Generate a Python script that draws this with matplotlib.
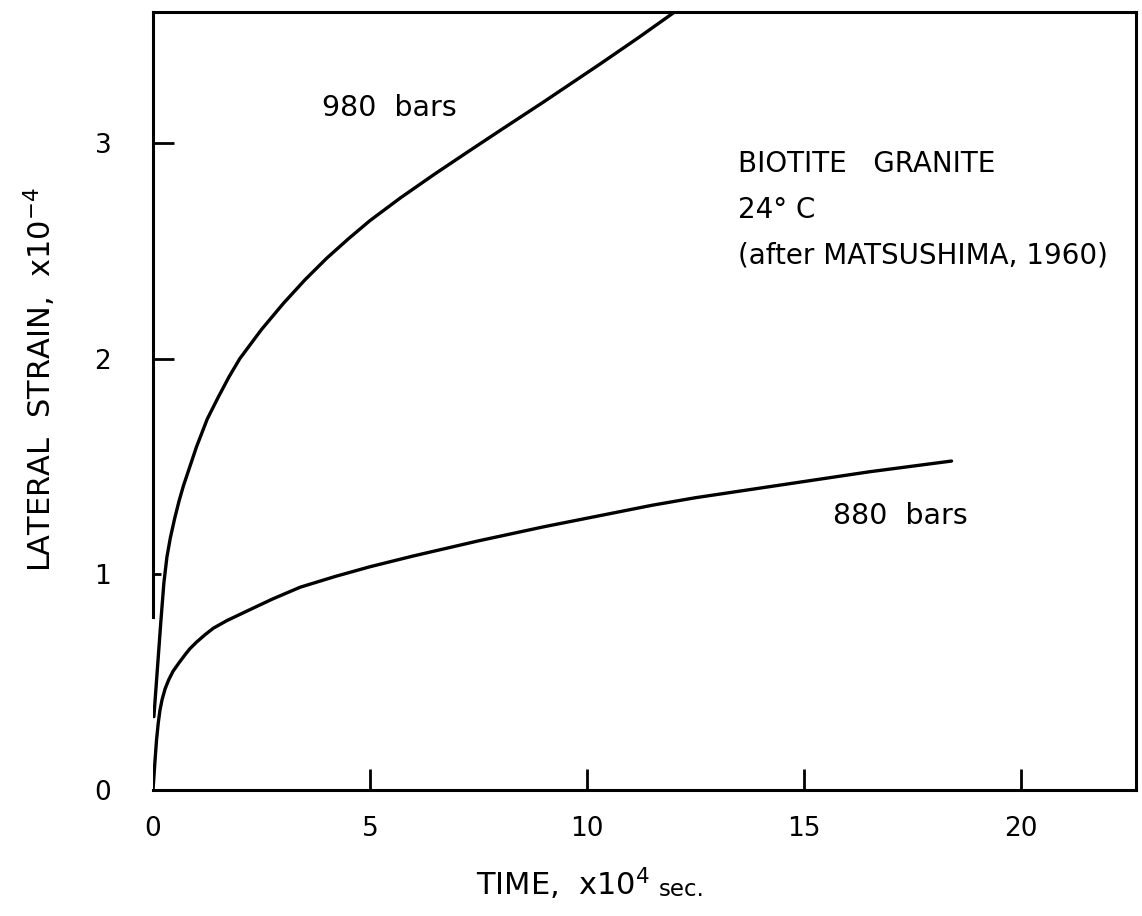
import matplotlib
matplotlib.use("Agg")
import matplotlib.pyplot as plt

# creep curves of biotite granite, time in 1e4 s, lateral strain in 1e-4
TIME_980 = [0.02, 0.10, 0.18, 0.25, 0.32, 0.40, 0.50, 0.60, 0.70, 0.85, 1.00, 1.25, 1.50, 1.75,
            2.00, 2.50, 3.00, 3.50, 4.00, 4.50, 5.00, 5.70, 6.50, 7.25, 8.00, 9.00, 10.31, 11.20, 12.04]
STRAIN_980 = [0.34, 0.56, 0.78, 0.96, 1.08, 1.17, 1.26, 1.34, 1.41, 1.50, 1.59, 1.72, 1.82, 1.915,
              2.00, 2.135, 2.255, 2.365, 2.465, 2.555, 2.64, 2.745, 2.857, 2.958, 3.058, 3.19, 3.367, 3.49, 3.61]

TIME_880 = [0.0, 0.04, 0.08, 0.12, 0.16, 0.21, 0.28, 0.36, 0.46, 0.60, 0.75, 0.85, 1.00, 1.20, 1.39,
            1.70, 2.17, 2.75, 3.39, 4.20, 5.0, 6.0, 7.5, 9.0, 10.0, 11.5, 12.5, 14.0, 15.0, 16.5, 18.4]
STRAIN_880 = [0.0, 0.12, 0.23, 0.31, 0.37, 0.42, 0.47, 0.51, 0.55, 0.59, 0.63, 0.655, 0.685, 0.72, 0.75,
              0.785, 0.83, 0.885, 0.94, 0.99, 1.035, 1.085, 1.155, 1.22, 1.26, 1.32, 1.355, 1.40, 1.43, 1.475, 1.525]

X_TICKS = [0, 5, 10, 15, 20]
Y_TICKS = [0, 1, 2, 3]
X_MAX = 22.65
Y_MAX = 3.607

FONT = "DejaVu Sans"
INK = "black"


def main() -> int:
    plt.rcParams["font.family"] = [FONT]
    plt.rcParams["mathtext.fontset"] = "dejavusans"

    fig = plt.figure(figsize=(11.42, 9.16), dpi=100)
    ax = fig.add_axes([0.134, 0.1376, 0.8607, 0.8493])

    ax.plot(TIME_980, STRAIN_980, color=INK, lw=2.4, solid_capstyle="round", solid_joinstyle="round")
    ax.plot(TIME_880, STRAIN_880, color=INK, lw=2.4, solid_capstyle="round", solid_joinstyle="round")

    ax.set_xlim(0, X_MAX)
    ax.set_ylim(0, Y_MAX)

    for side in ["left", "right", "top", "bottom"]:
        ax.spines[side].set_linewidth(2.2)
        ax.spines[side].set_color(INK)
    # the left border stops short of the origin
    ax.spines["left"].set_bounds(0.8, Y_MAX)

    ax.set_xticks(X_TICKS)
    ax.set_yticks(Y_TICKS)
    ax.set_xticklabels([str(v) for v in X_TICKS])
    ax.set_yticklabels([str(v) for v in Y_TICKS])
    ax.tick_params(axis="x", direction="in", length=15, width=2.0, pad=19, labelsize=19)
    ax.tick_params(axis="y", direction="in", length=15, width=2.0, pad=30, labelsize=19)

    xticks = ax.xaxis.get_major_ticks()
    yticks = ax.yaxis.get_major_ticks()
    xticks[0].tick1line.set_visible(False)
    yticks[0].tick1line.set_visible(False)
    yticks[1].tick1line.set_markersize(6)

    # axis titles
    ax.text(-0.115, 0.527, r"LATERAL  STRAIN,  x10$^{-4}$", transform=ax.transAxes,
            rotation=90, ha="center", va="center", fontsize=22)
    ax.text(0.5056, -0.136, r"TIME,  x10$^{4}$", transform=ax.transAxes,
            ha="right", va="baseline", fontsize=22)
    ax.text(0.5147, -0.136, "sec.", transform=ax.transAxes,
            ha="left", va="baseline", fontsize=16.5)

    # curve labels and notes
    ax.text(3.89, 3.16, "980  bars", ha="left", va="center", fontsize=20.5)
    ax.text(15.67, 1.27, "880  bars", ha="left", va="center", fontsize=20.5)
    ax.text(13.48, 2.90, "BIOTITE   GRANITE", ha="left", va="center", fontsize=20)
    ax.text(13.48, 2.69, "24° C", ha="left", va="center", fontsize=20)
    ax.text(13.48, 2.48, "(after MATSUSHIMA, 1960)", ha="left", va="center", fontsize=20)

    fig.savefig("out.png", dpi=100, facecolor="white")
    plt.close(fig)
    return 0


if __name__ == "__main__":
    raise SystemExit(main())
